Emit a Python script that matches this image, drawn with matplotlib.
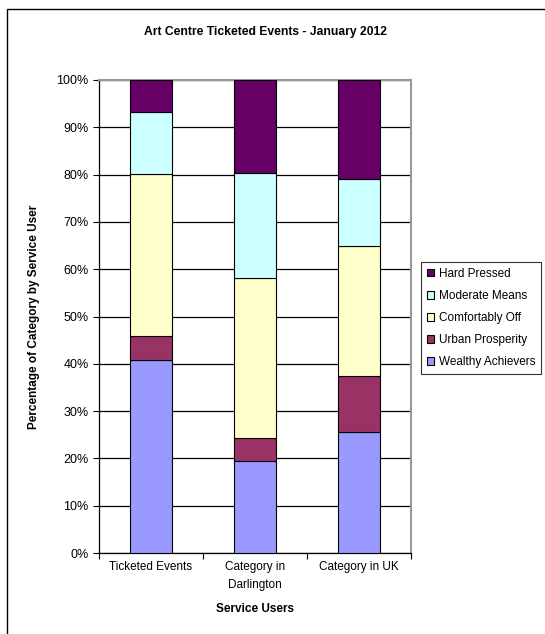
import matplotlib
matplotlib.use("Agg")
import matplotlib.pyplot as plt
from matplotlib.patches import Rectangle
from matplotlib.ticker import MultipleLocator, PercentFormatter

plt.rcParams['font.family'] = ['Liberation Sans', 'DejaVu Sans']

categories = ["Ticketed Events", "Category in\nDarlington", "Category in UK"]
series = ["Wealthy Achievers", "Urban Prosperity", "Comfortably Off",
          "Moderate Means", "Hard Pressed"]
wealthy = [40.7, 19.4, 25.5]
urban = [5.1, 5.0, 12.0]
comfortable = [34.3, 33.8, 27.5]
moderate = [13.1, 22.2, 14.0]
hard = [6.8, 19.6, 21.0]
colors = ["#9999FF", "#993366", "#FFFFCC", "#CCFFFF", "#660066"]

fig = plt.figure(figsize=(5.45, 6.34), dpi=100)
ax = fig.add_axes([99 / 545, 81 / 634, 312 / 545, 473 / 634])

# outer chart border (only top and left visible in the crop)
fig.patches.append(Rectangle((7 / 545, -0.1), 1.2, (634 - 9) / 634 + 0.1,
                             transform=fig.transFigure, fill=False,
                             edgecolor="black", linewidth=1.0))

x = list(range(len(categories)))
bottom = [0, 0, 0]
for name, vals, c in zip(series, [wealthy, urban, comfortable, moderate, hard], colors):
    ax.bar(x, vals, width=0.4, bottom=bottom, color=c, edgecolor="black",
           linewidth=0.8, label=name, zorder=3)
    bottom = [bt + v for bt, v in zip(bottom, vals)]

ax.set_xlim(-0.5, 2.5)
ax.set_ylim(0, 100)
ax.yaxis.set_major_locator(MultipleLocator(10))
ax.yaxis.set_major_formatter(PercentFormatter(decimals=0))
ax.grid(axis="y", color="black", linewidth=0.9, zorder=0)
ax.set_axisbelow(True)

ax.set_xticks(x)
ax.set_xticklabels(categories, fontsize=8.5, linespacing=1.6)
ax.set_xticks([-0.5, 0.5, 1.5, 2.5], minor=True)
ax.tick_params(axis="x", which="major", length=0, pad=6)
ax.tick_params(axis="x", which="minor", length=4, direction="out", width=0.8)
ax.tick_params(axis="y", labelsize=9, length=4, direction="out", width=0.8)

for s in ["top", "right"]:
    ax.spines[s].set_color("#999999")
    ax.spines[s].set_linewidth(1.5)
for s in ["left", "bottom"]:
    ax.spines[s].set_color("black")
    ax.spines[s].set_linewidth(0.9)

ax.set_xlabel("Service Users", fontsize=8.5, fontweight="bold", labelpad=9)
ax.set_ylabel("Percentage of Category by Service User", fontsize=8.5,
              fontweight="bold", labelpad=12)
fig.text(266 / 545, 1 - 32 / 634, "Art Centre Ticketed Events - January 2012",
         ha="center", va="center", fontsize=8.7, fontweight="bold")

handles, labels = ax.get_legend_handles_labels()
leg = fig.legend(handles[::-1], labels[::-1], loc="upper left",
                 bbox_to_anchor=(421 / 545, 1 - 262 / 634), fontsize=8.5,
                 frameon=True, fancybox=False, edgecolor="black",
                 handlelength=0.6, handleheight=0.6, handletextpad=0.4,
                 labelspacing=0.85, borderpad=0.5, borderaxespad=0)
leg.get_frame().set_linewidth(0.8)

fig.savefig("out.png", dpi=100)
